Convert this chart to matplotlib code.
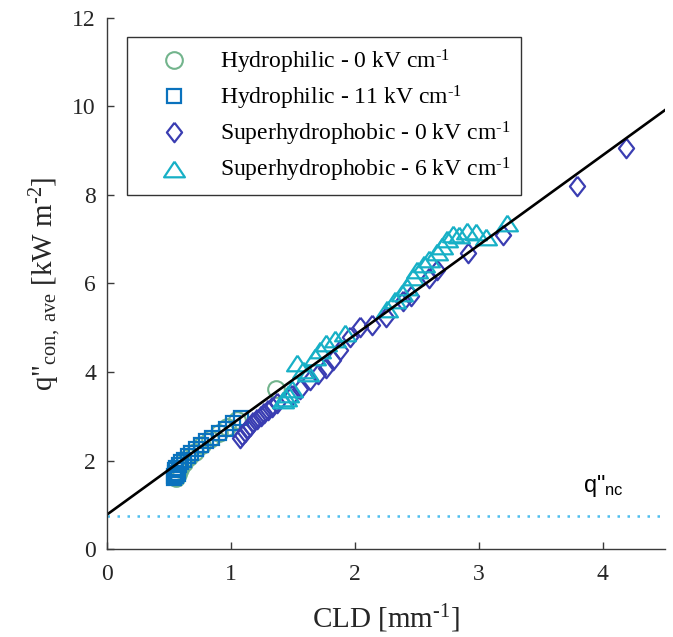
import matplotlib
matplotlib.use("Agg")
import matplotlib.pyplot as plt
import numpy as np

plt.rcParams['font.family'] = ['Liberation Serif', 'DejaVu Serif']
plt.rcParams['mathtext.fontset'] = 'custom'
plt.rcParams['mathtext.rm'] = 'Liberation Serif'
plt.rcParams['mathtext.it'] = 'Liberation Serif:italic'
plt.rcParams['mathtext.sf'] = 'Liberation Sans'

# Hydrophilic - 0 kV/cm
hphil0_x = [0.56, 0.57, 0.59, 0.62, 0.66, 0.71, 0.77, 0.83, 0.90, 0.97, 1.05, 1.36]
hphil0_y = [1.60, 1.70, 1.82, 1.95, 2.08, 2.20, 2.35, 2.48, 2.62, 2.75, 2.92, 3.62]

# Hydrophilic - 11 kV/cm
hphil11_x = [0.54, 0.54, 0.55, 0.55, 0.56, 0.56, 0.57, 0.58, 0.60, 0.62,
             0.65, 0.68, 0.72, 0.76, 0.80, 0.85, 0.90, 0.96, 1.02, 1.08]
hphil11_y = [1.60, 1.66, 1.72, 1.78, 1.64, 1.84, 1.70, 1.90, 1.96, 2.02,
             2.10, 2.18, 2.26, 2.35, 2.44, 2.52, 2.62, 2.72, 2.84, 2.95]

# Superhydrophobic - 0 kV/cm
shpb0_x = [1.07, 1.09, 1.11, 1.13, 1.15, 1.18, 1.21, 1.24, 1.27, 1.30, 1.33, 1.37,
           1.49, 1.56, 1.64, 1.70, 1.77, 1.82, 1.88, 1.96, 2.04, 2.14, 2.25, 2.39,
           2.45, 2.60, 2.66, 2.91, 3.19, 3.79, 4.19]
shpb0_y = [2.52, 2.58, 2.64, 2.72, 2.78, 2.86, 2.94, 3.00, 3.08, 3.14, 3.22, 3.30,
           3.48, 3.62, 3.82, 3.95, 4.10, 4.28, 4.50, 4.78, 5.02, 5.06, 5.25, 5.60,
           5.72, 6.12, 6.30, 6.68, 7.10, 8.20, 9.06]

# Superhydrophobic - 6 kV/cm
shpb6_x = [1.42, 1.44, 1.46, 1.49, 1.53, 1.58, 1.62, 1.68, 1.72, 1.77, 1.84, 1.92,
           2.26, 2.32, 2.38, 2.42, 2.47, 2.50, 2.56, 2.60, 2.66, 2.70, 2.74, 2.79,
           2.84, 2.90, 2.98, 3.06, 3.23]
shpb6_y = [3.37, 3.42, 3.50, 3.62, 4.20, 4.05, 3.98, 4.35, 4.50, 4.65, 4.75, 4.88,
           5.42, 5.62, 5.78, 5.92, 6.15, 6.30, 6.45, 6.55, 6.70, 6.85, 7.00, 7.12,
           7.10, 7.18, 7.16, 7.05, 7.37]

# linear fit and natural convection level
fit_intercept = 0.78
fit_slope = 2.03
q_nc = 0.75

labels = [r'Hydrophilic - 0 kV cm$^{\text{-}1}$',
          r'Hydrophilic - 11 kV cm$^{\text{-}1}$',
          r'Superhydrophobic - 0 kV cm$^{\text{-}1}$',
          r'Superhydrophobic - 6 kV cm$^{\text{-}1}$']

diamond = [(0, 1), (0.78, 0), (0, -1), (-0.78, 0), (0, 1)]
triangle = [(0, 0.75), (1, -0.75), (-1, -0.75), (0, 0.75)]

fig = plt.figure(figsize=(6.73, 6.37), dpi=100)
ax = fig.add_axes([0.159, 0.138, 0.829, 0.834])

ax.plot(hphil0_x, hphil0_y, ls='none', marker='o', ms=12, mfc='none',
        mec='#72B48C', mew=1.5, label=labels[0])
ax.plot(hphil11_x, hphil11_y, ls='none', marker='s', ms=10, mfc='none',
        mec='#0A72BD', mew=1.6, label=labels[1])
ax.plot(shpb0_x, shpb0_y, ls='none', marker=diamond, ms=14, mfc='none',
        mec='#3A3DB2', mew=1.6, label=labels[2])
ax.plot(shpb6_x, shpb6_y, ls='none', marker=triangle, ms=15, mfc='none',
        mec='#17B0C6', mew=1.6, label=labels[3])

xfit = np.array([0, 4.5])
ax.plot(xfit, fit_intercept + fit_slope * xfit, color='black', lw=1.9)
ax.axhline(q_nc, color='#4DBEEE', ls=(0, (1, 3)), lw=1.8)
ax.text(3.84, 1.3, r'q"$_{\mathsf{nc}}$', fontsize=17, family='Liberation Sans')

ax.set_xlim(0, 4.5)
ax.set_ylim(0, 12)
ax.set_xticks([0, 1, 2, 3, 4])
ax.set_yticks(range(0, 13, 2))
for side in ['top', 'right']:
    ax.spines[side].set_visible(False)
for side in ['left', 'bottom']:
    ax.spines[side].set_color('#3a3a3a')
    ax.spines[side].set_linewidth(1.0)
ax.tick_params(direction='in', length=5, width=1, colors='#3a3a3a',
               labelcolor='#262626', labelsize=17)
ax.tick_params(axis='x', pad=11)
ax.tick_params(axis='y', pad=8)

ax.set_xlabel(r'CLD [mm$^{\text{-}1}$]', fontsize=21, color='#262626', labelpad=12)
ax.set_ylabel(r'q"$_{\mathrm{con,\ ave}}$ [kW m$^{\text{-}2}$]', fontsize=21,
              color='#262626', labelpad=6)

leg = ax.legend(loc='upper left', bbox_to_anchor=(0.036, 0.964), fontsize=17,
                frameon=True, fancybox=False, edgecolor='black',
                handlelength=3.07, handletextpad=0.4, labelspacing=0.34,
                borderpad=0.45, borderaxespad=0)
leg.get_frame().set_linewidth(1.0)

plt.savefig('out.png', dpi=100)
